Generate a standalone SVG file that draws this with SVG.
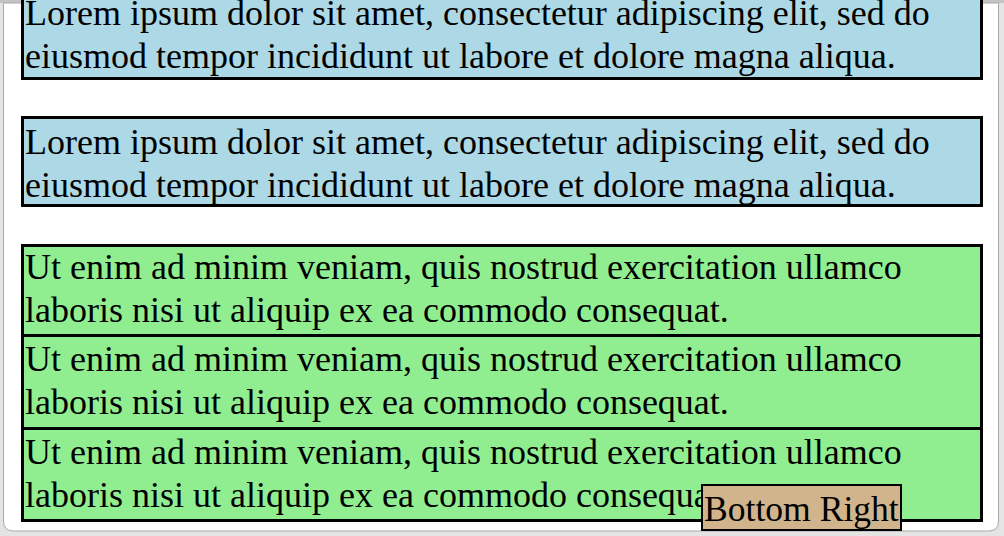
<svg xmlns="http://www.w3.org/2000/svg" width="1004" height="536" viewBox="0 0 1004 536">
<style>
.txt{font-family:"Liberation Serif","Times New Roman",serif;font-size:36px;fill:#000}
.blue{fill:#ADD8E6;stroke:#000;stroke-width:3}
.green{fill:#90EE90;stroke:#000;stroke-width:3}
</style>
<rect x="0" y="0" width="1004" height="536" fill="#e4e4e4"/>
<rect x="0" y="0" width="1004" height="3" fill="#c4c4c4"/>
<g id="panel">
<path d="M3.5 3 H998.5 V521 Q998.5 531 988.5 531 H13.5 Q3.5 531 3.5 521 Z" fill="#fff" stroke="#a8a8a8" stroke-width="1"/>
</g>
<g id="box1">
<rect class="blue" x="22.5" y="-11.5" width="959" height="90"/>
<text class="txt" x="25" y="25">Lorem ipsum dolor sit amet, consectetur adipiscing elit, sed do</text>
<text class="txt" x="25" y="68">eiusmod tempor incididunt ut labore et dolore magna aliqua.</text>
</g>
<g id="box2">
<rect class="blue" x="22.5" y="117.5" width="959" height="88"/>
<text class="txt" x="25" y="154">Lorem ipsum dolor sit amet, consectetur adipiscing elit, sed do</text>
<text class="txt" x="25" y="196.5">eiusmod tempor incididunt ut labore et dolore magna aliqua.</text>
</g>
<g id="box3">
<rect class="green" x="22.5" y="245.5" width="959" height="90"/>
<text class="txt" x="25" y="278.5">Ut enim ad minim veniam, quis nostrud exercitation ullamco</text>
<text class="txt" x="25" y="322">laboris nisi ut aliquip ex ea commodo consequat.</text>
</g>
<g id="box4">
<rect class="green" x="22.5" y="335.5" width="959" height="93"/>
<text class="txt" x="25" y="370.5">Ut enim ad minim veniam, quis nostrud exercitation ullamco</text>
<text class="txt" x="25" y="414">laboris nisi ut aliquip ex ea commodo consequat.</text>
</g>
<g id="box5">
<rect class="green" x="22.5" y="428.5" width="959" height="92"/>
<text class="txt" x="25" y="463.5">Ut enim ad minim veniam, quis nostrud exercitation ullamco</text>
<text class="txt" x="25" y="507">laboris nisi ut aliquip ex ea commodo consequat.</text>
</g>
<g id="bottom-right">
<rect x="702" y="485" width="199" height="45" fill="#D2B48C" stroke="#000" stroke-width="2"/>
<text class="txt" x="704" y="521" style="font-size:35.6px">Bottom Right</text>
</g>
<g id="connectors"/>
</svg>
